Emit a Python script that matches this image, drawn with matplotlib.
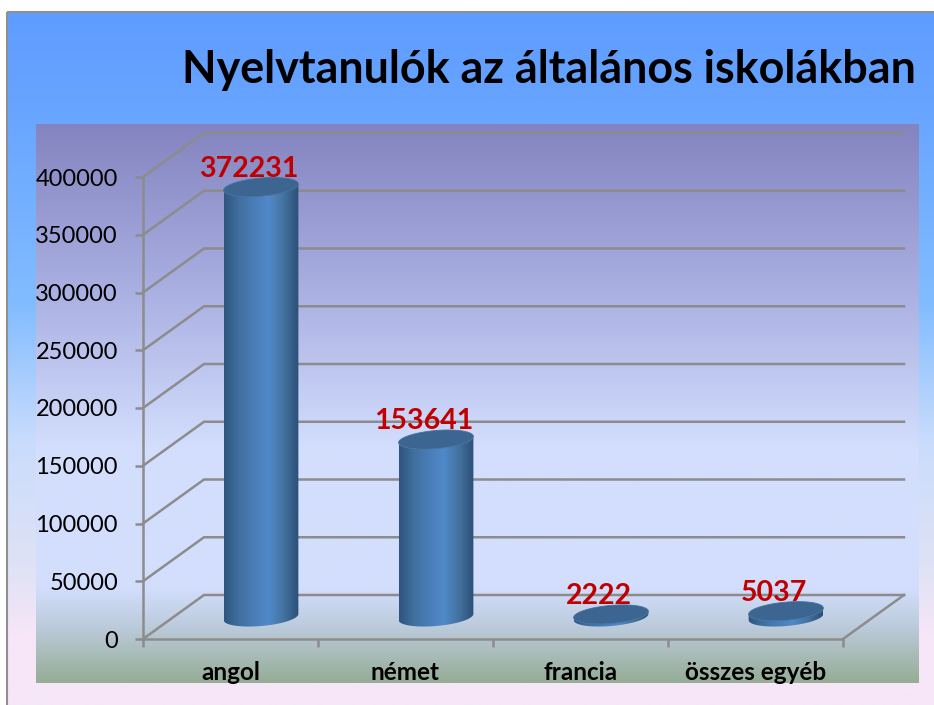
import numpy as np
import matplotlib
matplotlib.use("Agg")
import matplotlib.pyplot as plt
from matplotlib.colors import LinearSegmentedColormap
from matplotlib.patches import PathPatch, Polygon, Rectangle
from matplotlib.path import Path

plt.rcParams['font.family'] = ['Lato', 'DejaVu Sans']

categories = ["angol", "német", "francia", "összes egyéb"]
values = [372231, 153641, 2222, 5037]
title = "Nyelvtanulók az általános iskolákban"
y_ticks = [0, 50000, 100000, 150000, 200000, 250000, 300000, 350000, 400000]

W, H = 934, 705
GRAY = "#8c8c8c"
RED = "#c00000"
LW = 1.8

# pixel box of the front plane of the chart
LEFT, RIGHT, BOTTOM, TOP = 143, 843, 639, 177
DEPTH_X, DEPTH_Y = 61, 44
RX, RY, TILT = 37.5, 9, np.radians(5)

fig = plt.figure(figsize=(W / 100, H / 100), dpi=100, facecolor="white")


def vgrad(ax, stops, x0, x1, y0, y1, zorder=1):
	# stops are (fraction, colour) from top to bottom
	cmap = LinearSegmentedColormap.from_list("g", stops)
	ax.imshow(np.linspace(0, 1, 256)[:, None], cmap=cmap, extent=(x0, x1, y1, y0),
		aspect="auto", zorder=zorder, vmin=0, vmax=1)


bg = fig.add_axes([0, 0, 1, 1])
bg.set_axis_off()
vgrad(bg, [(0, "#5e9cff"), (0.14, "#68a5ff"), (0.42, "#82bcff"), (0.62, "#c9dcfc"), (0.8, "#dfe2f5"), (0.9, "#f6e6f8"), (1, "#f6e6f8")], 8, W, 13, H)
bg.add_patch(Rectangle((7, 12), W, H, fill=False, ec="#8f8f8f", lw=1.5, zorder=2))
vgrad(bg, [(0, "#8484c0"), (0.3, "#aab0e2"), (0.58, "#d3defd"), (0.83, "#d3defd"), (0.9, "#bccbdc"), (1, "#96ad96")], 36, 919, 124, 683, zorder=3)
bg.set_xlim(0, W)
bg.set_ylim(H, 0)

ax = fig.add_axes([LEFT / W, 1 - BOTTOM / H, (RIGHT - LEFT) / W, (BOTTOM - TOP) / H])
ax.patch.set_alpha(0)
xlim = (0, len(categories))
ylim = (0, y_ticks[-1])
sx = (RIGHT - LEFT) / xlim[1]
sy = (BOTTOM - TOP) / ylim[1]
dx = DEPTH_X / sx
dy = DEPTH_Y / sy

# walls and floor
for v in y_ticks:
	ax.plot([0, dx, xlim[1] + dx], [v, v + dy, v + dy], color=GRAY, lw=LW, clip_on=False, zorder=2, solid_joinstyle="miter")
ax.plot([xlim[1], xlim[1] + dx], [0, dy], color=GRAY, lw=LW, clip_on=False, zorder=2)


def ellipse_xy(cx, cy, t):
	px = RX * np.cos(t) * np.cos(TILT) - RY * np.sin(t) * np.sin(TILT)
	py = RX * np.cos(t) * np.sin(TILT) + RY * np.sin(t) * np.cos(TILT)
	return cx + px / sx, cy + py / sy


body_cmap = LinearSegmentedColormap.from_list("body", ["#2f557f", "#40709f", "#4a7db8", "#5089c9", "#44729f", "#2c4f78"])
t_full = np.linspace(0, 2 * np.pi, 120)
# extreme points of the tilted ellipse
t_right = np.arctan2(-RY * np.sin(TILT), RX * np.cos(TILT))
t_low = np.linspace(t_right + np.pi, t_right + 2 * np.pi, 60)

for i, v in enumerate(values):
	cx = i + 0.5 + dx / 2
	base = dy / 2
	top = base + v
	xb, yb = ellipse_xy(cx, base, t_low)
	xt, yt = ellipse_xy(cx, top, t_low[::-1])
	body = PathPatch(Path(np.column_stack([np.r_[xb, xt], np.r_[yb, yt]])), fc="none", ec="none", transform=ax.transData)
	ax.add_patch(body)
	im = ax.imshow(np.linspace(0, 1, 128)[None, :], cmap=body_cmap, aspect="auto", zorder=4,
		extent=(cx - RX / sx, cx + RX / sx, base - 3 * RY / sy, top + 3 * RY / sy), clip_on=True)
	im.set_clip_path(body)
	xe, ye = ellipse_xy(cx, top, t_full)
	ax.add_patch(Polygon(np.column_stack([xe, ye]), closed=True, fc="#3c6591", ec="#44709f", lw=0.6, zorder=5, clip_on=False))
	ax.annotate(str(v), (cx, top), xytext=(-9, 4), textcoords="offset points", ha="center", va="bottom",
		color=RED, fontsize=20.5, fontweight="bold", zorder=6, annotation_clip=False)

ax.set_xlim(*xlim)
ax.set_ylim(*ylim)
ax.set_yticks(y_ticks)
ax.set_xticks(range(len(categories) + 1))
ax.set_xticklabels([])
ax.set_xticks([i + 0.5 for i in range(len(categories))], categories, minor=True)
for s in ["top", "right"]:
	ax.spines[s].set_visible(False)
for s in ["left", "bottom"]:
	ax.spines[s].set_color(GRAY)
	ax.spines[s].set_linewidth(LW)
ax.tick_params(axis="y", length=6, width=LW, color=GRAY, labelsize=17, pad=12, labelcolor="black")
ax.tick_params(axis="x", which="major", length=6, width=LW, color=GRAY)
ax.tick_params(axis="x", which="minor", length=0, pad=16, labelsize=17.5)
for lab in ax.get_xticklabels(minor=True):
	lab.set_fontweight("bold")

fig.text(916 / W, 1 - 70 / H, title, ha="right", va="center", fontsize=32.3, fontweight="bold", color="black")

fig.savefig("out.png", dpi=100)
